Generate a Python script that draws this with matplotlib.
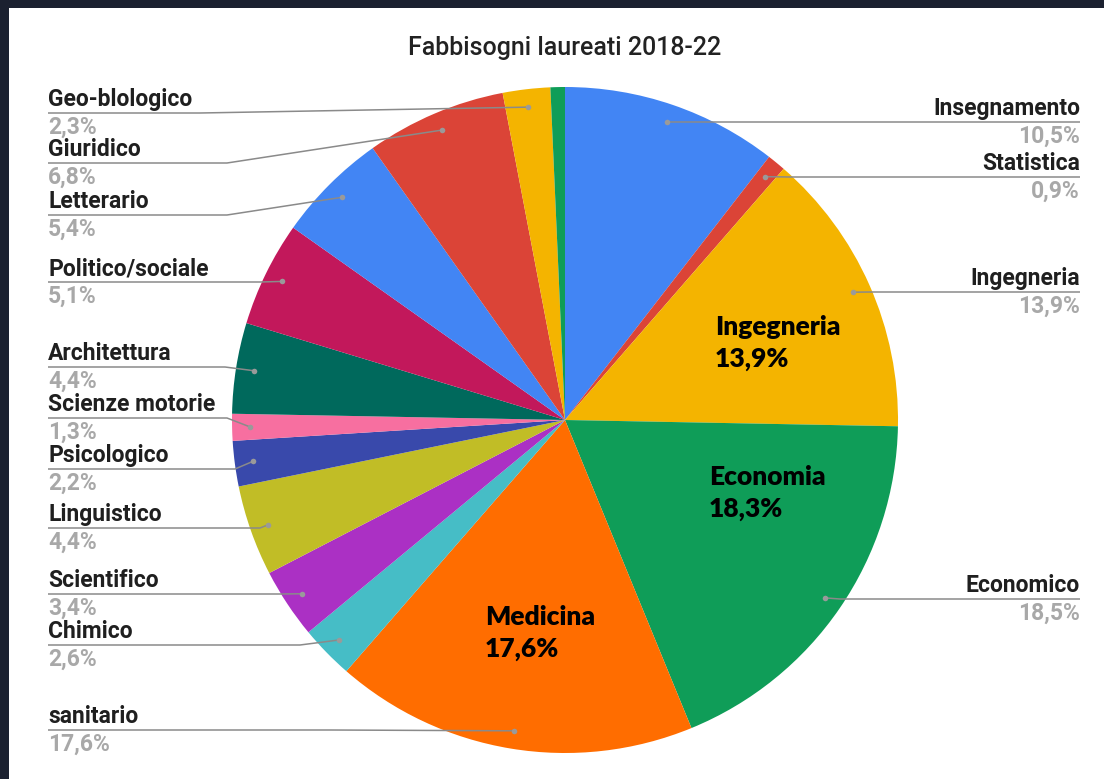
import numpy as np
import matplotlib
matplotlib.use("Agg")
import matplotlib.pyplot as plt
from matplotlib.patches import Rectangle

# --- dati (in senso orario dalle ore 12) ---
categories = ["Insegnamento", "Statistica", "Ingegneria", "Economico", "sanitario",
              "Chimico", "Scientifico", "Linguistico", "Psicologico", "Scienze motorie",
              "Architettura", "Politico/sociale", "Letterario", "Giuridico", "Geo-blologico", ""]
values = [10.5, 0.9, 13.9, 18.5, 17.6, 2.6, 3.4, 4.4, 2.2, 1.3, 4.4, 5.1, 5.4, 6.8, 2.3, 0.7]
colors = ["#4285F4", "#DB4437", "#F4B400", "#0F9D58", "#FF6D00", "#46BDC6", "#AB30C4",
          "#C1BD26", "#3949AB", "#F76FA0", "#00695C", "#C2185B", "#4285F4", "#DB4437",
          "#F4B400", "#0F9D58"]

# annotazioni sovrapposte
notes = [("Ingegneria", "13,9%"), ("Economia", "18,3%"), ("Medicina", "17,6%")]

# --- layout (pixel) ---
W, H = 1104, 779
cx, cy, R = 565, 420, 333
# lato, y della linea, x del gomito
label_layout = {
    "Insegnamento": ("r", 122, 700), "Statistica": ("r", 177, 790),
    "Ingegneria": ("r", 292, 870), "Economico": ("r", 599, 840),
    "sanitario": ("l", 730, 330), "Chimico": ("l", 645, 300),
    "Scientifico": ("l", 594, 280), "Linguistico": ("l", 528, 260),
    "Psicologico": ("l", 469, 235), "Scienze motorie": ("l", 418, 227),
    "Architettura": ("l", 367, 225), "Politico/sociale": ("l", 282, 260),
    "Letterario": ("l", 215, 227), "Giuridico": ("l", 163, 227),
    "Geo-blologico": ("l", 113, 200),
}
note_pos = [(715, 335), (709, 485), (485, 625)]

fam = ["Roboto", "DejaVu Sans"]

fig = plt.figure(figsize=(W / 100, H / 100), dpi=100)
fig.patch.set_facecolor("#1b2130")
ax = fig.add_axes([0, 0, 1, 1])

wedges, _ = ax.pie(values, colors=colors, startangle=-90, counterclock=True,
                   center=(cx, cy), radius=R, wedgeprops=dict(linewidth=0))
ax.set_xlim(0, W)
ax.set_ylim(H, 0)
ax.set_axis_off()
ax.add_patch(Rectangle((9, 8), W, H, facecolor="white", edgecolor="none", zorder=0))

for w, name, v in zip(wedges, categories, values):
    if name not in label_layout:
        continue
    side, ly, knee = label_layout[name]
    mid = np.deg2rad((w.theta1 + w.theta2) / 2)
    dx, dy = cx + 315 * np.cos(mid), cy + 315 * np.sin(mid)
    pct = f"{v:.1f}".replace(".", ",") + "%"
    if side == "l":
        xs, ys = [48, knee, dx], [ly, ly, dy]
        tx, ha = 48, "left"
    else:
        xs, ys = [1080, knee, dx], [ly, ly, dy]
        tx, ha = 1080, "right"
    ax.plot(xs, ys, color="#8a8a8a", lw=1.1, zorder=3, solid_capstyle="butt")
    ax.plot(dx, dy, "o", color="#9a9a9a", ms=4, mec="none", zorder=4)
    ax.text(tx, ly - 7, name, ha=ha, va="baseline", fontsize=16.5, fontweight=600,
            family=fam, color="#1f1f1f", zorder=5)
    ax.text(tx, ly + 21, pct, ha=ha, va="baseline", fontsize=16.5, fontweight=600,
            family=fam, color="#a8a8a8", zorder=5)

for (t1, t2), (nx, ny) in zip(notes, note_pos):
    ax.text(nx, ny, t1, ha="left", va="baseline", fontsize=19, fontweight=800,
            family=["Lato", "DejaVu Sans"], color="black", zorder=6)
    ax.text(nx, ny + 32, t2, ha="left", va="baseline", fontsize=19, fontweight=800,
            family=["Lato", "DejaVu Sans"], color="black", zorder=6)

ax.text(565, 55, "Fabbisogni laureati 2018-22", ha="center", va="baseline",
        fontsize=18, fontweight=500, family=fam, color="#222222")

fig.savefig("out.png", dpi=100, facecolor=fig.get_facecolor())
